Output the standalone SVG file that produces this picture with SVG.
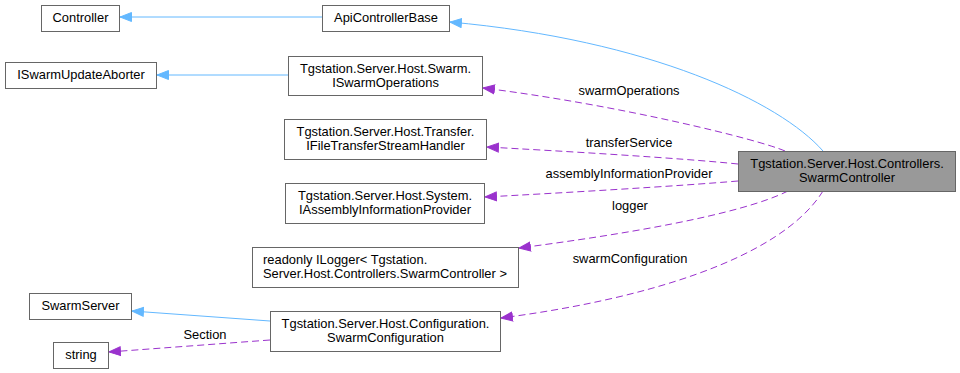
<svg xmlns="http://www.w3.org/2000/svg" width="960" height="373" viewBox="0 0 960 373">
  <style>
    text { font-family: "Liberation Sans", Arial, sans-serif; font-size: 12.9px; fill: #000; text-anchor: middle; }
    .node rect { fill: #ffffff; stroke: #666666; stroke-width: 1; }
    .node.main rect { fill: #999999; }
    .inh { fill: none; stroke: #63b8ff; stroke-width: 1; }
    .use { fill: none; stroke: #9a32cd; stroke-width: 1; stroke-dasharray: 7,4; }
  </style>
  <defs>
    <marker id="arrowBlue" markerUnits="userSpaceOnUse" markerWidth="14" markerHeight="12" refX="12" refY="5.5" orient="auto">
      <path d="M0.5,1 L12,5.5 L0.5,10 Z" fill="#63b8ff" stroke="#63b8ff"/>
    </marker>
    <marker id="arrowPurple" markerUnits="userSpaceOnUse" markerWidth="14" markerHeight="12" refX="12" refY="5.5" orient="auto">
      <path d="M0.5,1 L12,5.5 L0.5,10 Z" fill="#9a32cd" stroke="#9a32cd"/>
    </marker>
  </defs>

  <rect width="960" height="373" fill="#ffffff"/>

  <g id="connectors">
    <path class="inh" d="M322,17 L120,17" marker-end="url(#arrowBlue)"/>
    <path class="inh" d="M288,75 L157,75" marker-end="url(#arrowBlue)"/>
    <path class="inh" d="M823,151 C780,102 650,40 450,22" marker-end="url(#arrowBlue)"/>
    <path class="use" d="M785,151 C760,140 620,105 483,88" marker-end="url(#arrowPurple)"/>
    <path class="use" d="M738,164 C680,158 560,151 487,147" marker-end="url(#arrowPurple)"/>
    <path class="use" d="M738,181 C680,186 560,193 485,197" marker-end="url(#arrowPurple)"/>
    <path class="use" d="M788,191 C740,215 620,235 519,248" marker-end="url(#arrowPurple)"/>
    <path class="use" d="M823,191 C780,260 640,300 501,318" marker-end="url(#arrowPurple)"/>
    <path class="inh" d="M270,321 L132,311" marker-end="url(#arrowBlue)"/>
    <path class="use" d="M270,340 L109,352" marker-end="url(#arrowPurple)"/>
    <text x="629" y="95">swarmOperations</text>
    <text x="629" y="147">transferService</text>
    <text x="629" y="178">assemblyInformationProvider</text>
    <text x="630" y="210">logger</text>
    <text x="630" y="263">swarmConfiguration</text>
    <text x="205" y="339">Section</text>
  </g>

  <g id="SwarmController" class="node main">
    <rect x="738.5" y="151.5" width="217" height="40"/>
    <text x="847" y="167.5">Tgstation.Server.Host.Controllers.</text>
    <text x="847" y="181.5">SwarmController</text>
  </g>
  <g id="ApiControllerBase" class="node">
    <rect x="322.5" y="5.5" width="127" height="26"/>
    <text x="386" y="22">ApiControllerBase</text>
  </g>
  <g id="Controller" class="node">
    <rect x="41.5" y="5.5" width="78" height="26"/>
    <text x="80.5" y="22">Controller</text>
  </g>
  <g id="ISwarmOperations" class="node">
    <rect x="288.5" y="56.5" width="194" height="39"/>
    <text x="385.5" y="72.5">Tgstation.Server.Host.Swarm.</text>
    <text x="385.5" y="86.5">ISwarmOperations</text>
  </g>
  <g id="ISwarmUpdateAborter" class="node">
    <rect x="5.5" y="62.5" width="151" height="26"/>
    <text x="81" y="79">ISwarmUpdateAborter</text>
  </g>
  <g id="IFileTransferStreamHandler" class="node">
    <rect x="284.5" y="119.5" width="202" height="40"/>
    <text x="385.5" y="135.5">Tgstation.Server.Host.Transfer.</text>
    <text x="385.5" y="149.5">IFileTransferStreamHandler</text>
  </g>
  <g id="IAssemblyInformationProvider" class="node">
    <rect x="285.5" y="183.5" width="199" height="40"/>
    <text x="385" y="199.5">Tgstation.Server.Host.System.</text>
    <text x="385" y="213.5">IAssemblyInformationProvider</text>
  </g>
  <g id="ILogger" class="node">
    <rect x="252.5" y="247.5" width="266" height="40"/>
    <text x="263" y="263.5" style="text-anchor:start">readonly ILogger&lt; Tgstation.</text>
    <text x="263" y="277.5" style="text-anchor:start">Server.Host.Controllers.SwarmController &gt;</text>
  </g>
  <g id="SwarmConfiguration" class="node">
    <rect x="270.5" y="311.5" width="230" height="40"/>
    <text x="385.5" y="327.5">Tgstation.Server.Host.Configuration.</text>
    <text x="385.5" y="341.5">SwarmConfiguration</text>
  </g>
  <g id="SwarmServer" class="node">
    <rect x="29.5" y="293.5" width="102" height="26"/>
    <text x="80.5" y="310">SwarmServer</text>
  </g>
  <g id="string" class="node">
    <rect x="53.5" y="342.5" width="55" height="26"/>
    <text x="81" y="359">string</text>
  </g>
</svg>
